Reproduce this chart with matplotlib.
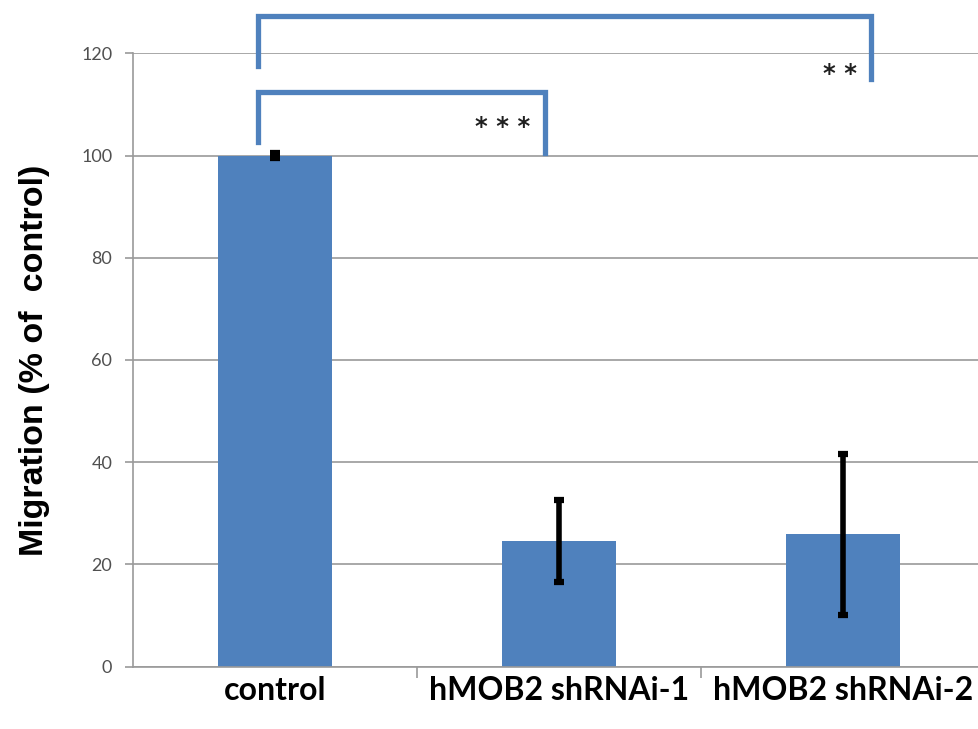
import matplotlib.pyplot as plt
import numpy as np

# data
categories = ["control", "hMOB2 shRNAi-1", "hMOB2 shRNAi-2"]
migration = [100, 24.6, 25.9]
errors = [0.4, 8.0, 15.8]
yticks = [0, 20, 40, 60, 80, 100, 120]

# significance brackets: (x_left, x_right, y_left, y_top, y_right, label, label_x, label_y)
brackets = [
    (-0.06, 0.95, 102.7, 112.5, 100.5, "* * *", 0.80, 104.3),
    (-0.06, 2.10, 117.6, 127.2, 114.9, "* *", 1.99, 114.5),
]

bar_blue = "#4F81BD"
grid_grey = "#9a9a9a"

fig = plt.figure(figsize=(9.79, 7.29), dpi=100)
ax = fig.add_axes([0.1359, 0.0855, 0.870, 0.8414])

x = np.arange(len(categories))
ax.bar(x, migration, width=0.40, color=bar_blue, zorder=2)
ax.errorbar(x, migration, yerr=errors, fmt="none", ecolor="black",
            elinewidth=4, capsize=3.3, capthick=4.5, zorder=3)

ax.set_xlim(-0.5, 2.5)
ax.set_ylim(0, 120)
ax.set_yticks(yticks)
ax.grid(axis="y", color=grid_grey, linewidth=1.2, zorder=0)
ax.set_axisbelow(True)

for s in ["top", "right"]:
    ax.spines[s].set_visible(False)
for s in ["left", "bottom"]:
    ax.spines[s].set_color(grid_grey)
    ax.spines[s].set_linewidth(1.2)

ax.tick_params(axis="y", length=6, width=1.2, color=grid_grey, pad=9,
               labelsize=13, labelcolor="#505050")
for lab in ax.get_yticklabels():
    lab.set_family("Lato")

# category labels, tick marks at the category boundaries
ax.set_xticks(x)
ax.set_xticklabels(categories, fontsize=23, fontweight="bold", family="Lato")
ax.tick_params(axis="x", which="major", length=0, pad=7)
ax.set_xticks([0.5, 1.5, 2.5], minor=True)
ax.tick_params(axis="x", which="minor", length=8, width=1.2, color=grid_grey)

ax.set_ylabel("Migration (% of  control)", fontsize=24.5, fontweight="bold",
              family="Liberation Sans")
ax.yaxis.set_label_coords(-0.098, 0.5)

# brackets with stars
for xl, xr, yl, yt, yr, txt, tx, ty in brackets:
    ax.plot([xl, xl, xr, xr], [yl, yt, yt, yr], color=bar_blue, linewidth=3.8,
            solid_joinstyle="miter", clip_on=False, zorder=4)
    ax.text(tx, ty, txt, ha="center", va="baseline", fontsize=17.5,
            fontweight="bold", color="#202020", family="DejaVu Sans")

fig.savefig("out.png", dpi=100)
